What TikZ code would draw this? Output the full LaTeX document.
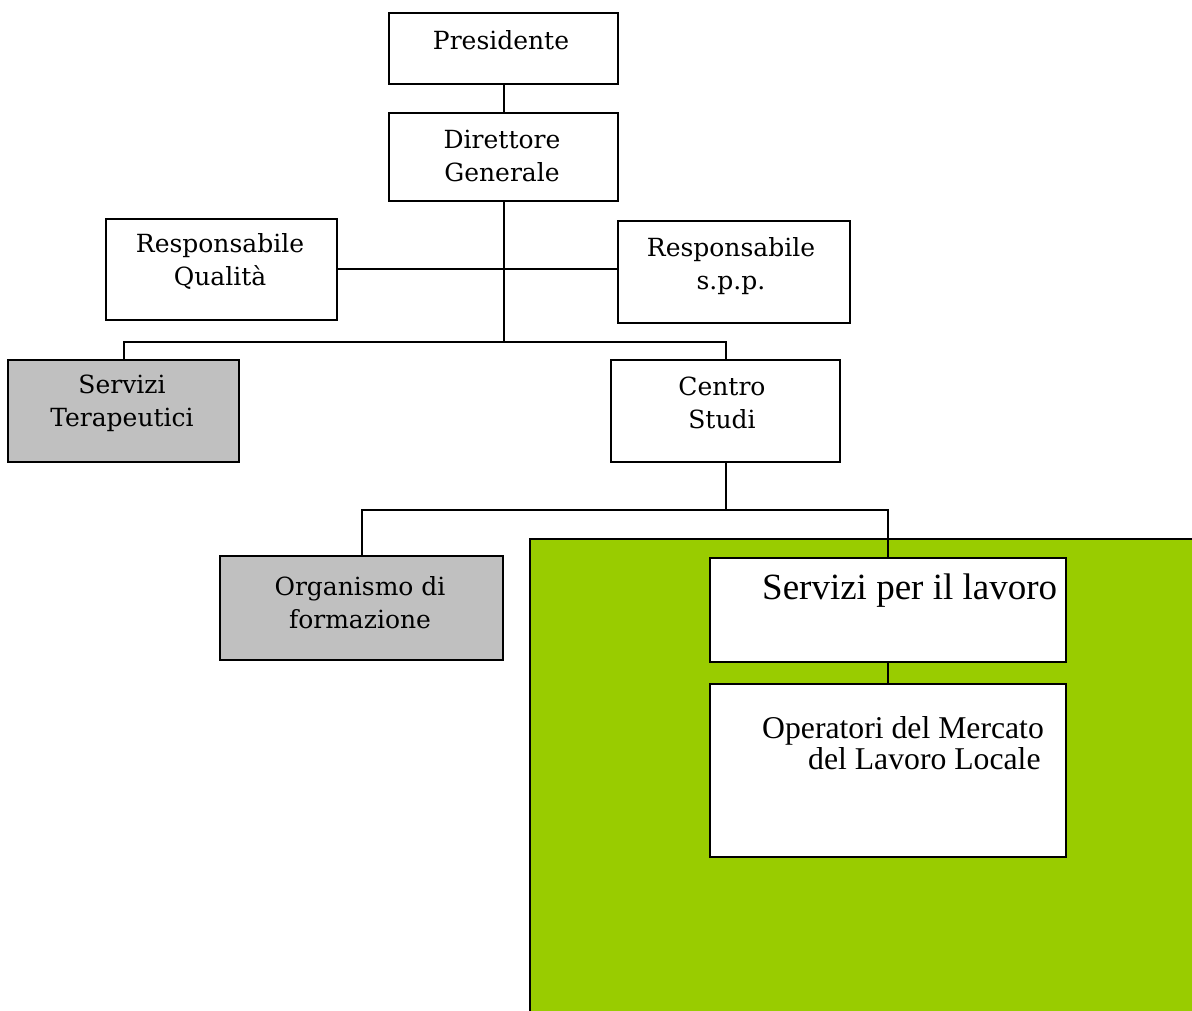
\documentclass[tikz,border=0pt]{standalone}
\usepackage{fontspec}
\setmainfont{DejaVu Serif}
\newfontfamily\timesf{Liberation Serif}
\definecolor{grayfill}{HTML}{C0C0C0}
\definecolor{limefill}{HTML}{99CC00}
\begin{document}
\begin{tikzpicture}[x=1pt,y=-1pt,
  box/.style={draw=black,line width=2pt,fill=white,inner sep=0pt,anchor=north west},
  graybox/.style={box,fill=grayfill},
  conn/.style={draw=black,line width=2pt},
  txt/.style={font=\fontsize{25}{33}\selectfont,align=center,inner sep=0pt},
  bigtxt/.style={font=\timesf\fontsize{37}{38}\selectfont,inner sep=0pt,anchor=west},
  midtxt/.style={font=\timesf\fontsize{31.7}{31}\selectfont,inner sep=0pt,align=left,anchor=west}
]
\useasboundingbox (0,0) rectangle (1192,1011);
\fill[white] (0,0) rectangle (1192,1011);
% green area
\fill[limefill] (530,539) rectangle (1200,1020);
\draw[line width=2pt] (530,1020) -- (530,539) -- (1200,539);

% boxes
\node[box,minimum width=229pt,minimum height=71pt] (pres) at (388,12) {};
\node[box,minimum width=229pt,minimum height=88pt] (dir) at (388,112) {};
\node[box,minimum width=231pt,minimum height=101pt] (qual) at (105,218) {};
\node[box,minimum width=232pt,minimum height=102pt] (spp) at (617,220) {};
\node[graybox,minimum width=231pt,minimum height=102pt] (ter) at (7,359) {};
\node[box,minimum width=229pt,minimum height=102pt] (cs) at (610,359) {};
\node[graybox,minimum width=283pt,minimum height=104pt] (org) at (219,555) {};
\node[box,minimum width=356pt,minimum height=104pt] (spl) at (709,557) {};
\node[box,minimum width=356pt,minimum height=173pt] (ope) at (709,683) {};

% connectors
\draw[conn] (pres.south) -- (dir.north);
\coordinate (j1) at ([yshift=-140pt]dir.south);
\draw[conn] (dir.south) -- (j1);
\draw[conn] (qual.east) -- (qual.east -| spp.west);
\draw[conn] (ter.north) -- (ter.north |- j1) -| (cs.north);
\coordinate (j2) at ([yshift=-47pt]cs.south);
\draw[conn] (cs.south) -- (j2);
\draw[conn] (org.north) |- (j2) -| (spl.north);
\draw[conn] (spl.south) -- (ope.north);

% texts
\node[txt] (tpres) at (501,40) {Presidente};
\node[txt] (tdir) at (502,156) {Direttore\\Generale};
\node[txt] (tqual) at (220,262) {Responsabile\\Qualità};
\node[txt] (tspp) at (731,266) {Responsabile\\s.p.p.};
\node[txt] (tter) at (122,403) {Servizi\\Terapeutici};
\node[txt] (tcs) at (722,403) {Centro\\Studi};
\node[txt] (torg) at (360,603) {Organismo di\\formazione};
\node[bigtxt] (tspl) at (762,591) {Servizi per il lavoro};
\node[midtxt] (tope) at (762,743) {Operatori del Mercato\\\hspace*{46pt}del Lavoro Locale};
\end{tikzpicture}
\end{document}
